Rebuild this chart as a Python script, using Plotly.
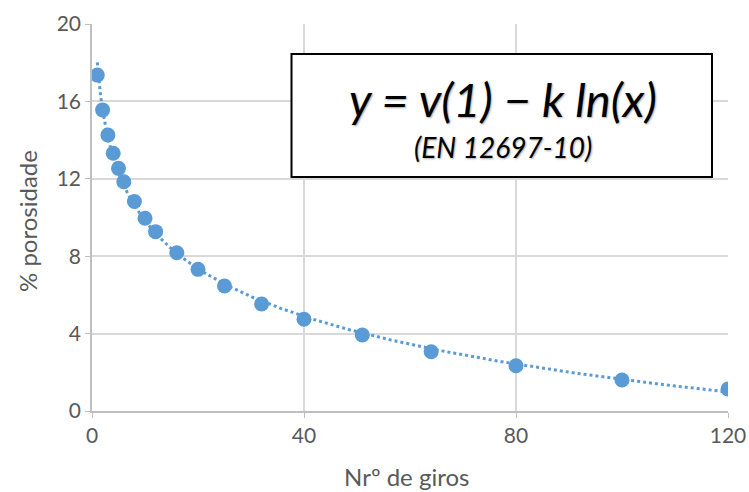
import numpy as np
import plotly.graph_objects as go

# Gyration counts and measured air-void content (%)
giros = [1, 2, 3, 4, 5, 6, 8, 10, 12, 16, 20, 25, 32, 40, 51, 64, 80, 100, 120]
porosidade = [17.36, 15.56, 14.26, 13.32, 12.54, 11.85, 10.83, 9.96, 9.27, 8.18,
              7.32, 6.46, 5.53, 4.74, 3.93, 3.06, 2.34, 1.60, 1.14]

x_ticks = [0, 40, 80, 120]
y_ticks = [0, 4, 8, 12, 16, 20]

BLUE = "#5B9BD5"
GRID = "#D9D9D9"
TXT = "#595959"
FONT = "Lato, 'Open Sans', sans-serif"

# plot area in pixels (fixed margins)
L, R, T, B = 92, 21, 24, 81
W, H = 749, 492
PW, PH = W - L - R, H - T - B


def px(xp):
    return (xp - L) / PW


def py(yp):
    return (H - B - yp) / PH


# Logarithmic trendline y = v(1) - k ln(x), least squares on ln(x)
lx = np.log(np.array(giros, dtype=float))
slope, intercept = np.polyfit(lx, np.array(porosidade), 1)
xt = np.linspace(min(giros), max(giros), 400)
yt = intercept + slope * np.log(xt)

fig = go.Figure()
fig.add_trace(go.Scatter(
    x=xt, y=yt, mode="lines",
    line=dict(color=BLUE, width=3, dash="dot"),
    hoverinfo="skip", showlegend=False,
))
fig.add_trace(go.Scatter(
    x=giros, y=porosidade, mode="markers",
    marker=dict(color=BLUE, size=15),
    showlegend=False,
))

# equation box
fig.add_shape(type="rect", xref="paper", yref="paper",
              x0=px(291.5), x1=px(712), y0=py(177), y1=py(54),
              line=dict(color="#000000", width=2), fillcolor="white", layer="above")
fig.add_annotation(xref="paper", yref="paper", xanchor="center", yanchor="middle",
                   x=px(503), y=py(99),
                   text="<i>y = v(1) − k ln(x)</i>", showarrow=False,
                   font=dict(family=FONT, size=47, color="#000000",
                             shadow="1px 1px 2px rgba(0,0,0,0.35)"))
fig.add_annotation(xref="paper", yref="paper", xanchor="center", yanchor="middle",
                   x=px(503), y=py(147),
                   text="<i>(EN 12697-10)</i>", showarrow=False,
                   font=dict(family=FONT, size=28, color="#000000",
                             shadow="1px 1px 2px rgba(0,0,0,0.35)"))

# axis titles
fig.add_annotation(xref="paper", yref="paper", xanchor="center", yanchor="middle",
                   x=px(406), y=py(476), text="Nrº de giros", showarrow=False,
                   font=dict(family=FONT, size=24, color=TXT))
fig.add_annotation(xref="paper", yref="paper", xanchor="center", yanchor="middle",
                   x=px(28), y=py(221), text="% porosidade", showarrow=False,
                   textangle=-90, font=dict(family=FONT, size=24, color=TXT))

fig.update_layout(
    width=W, height=H,
    margin=dict(l=L, r=R, t=T, b=B, autoexpand=False),
    paper_bgcolor="white", plot_bgcolor="white",
    font=dict(family=FONT, color=TXT, size=21),
)
fig.update_xaxes(
    range=[0, 120], tickvals=x_ticks, ticktext=[str(v) for v in x_ticks],
    showgrid=True, gridcolor=GRID, gridwidth=1.5,
    showline=True, linecolor="#BFBFBF", linewidth=1.5,
    ticks="outside", ticklen=5, tickcolor="#BFBFBF",
    zeroline=False, tickfont=dict(size=21, color=TXT), automargin=False,
)
fig.update_yaxes(
    range=[0, 20], tickvals=y_ticks, ticktext=[str(v) for v in y_ticks],
    showgrid=True, gridcolor=GRID, gridwidth=1.5,
    showline=True, linecolor="#BFBFBF", linewidth=1.5,
    ticks="outside", ticklen=5, tickcolor="#BFBFBF",
    zeroline=False, tickfont=dict(size=21, color=TXT), automargin=False,
)

fig.write_html("out.html")
